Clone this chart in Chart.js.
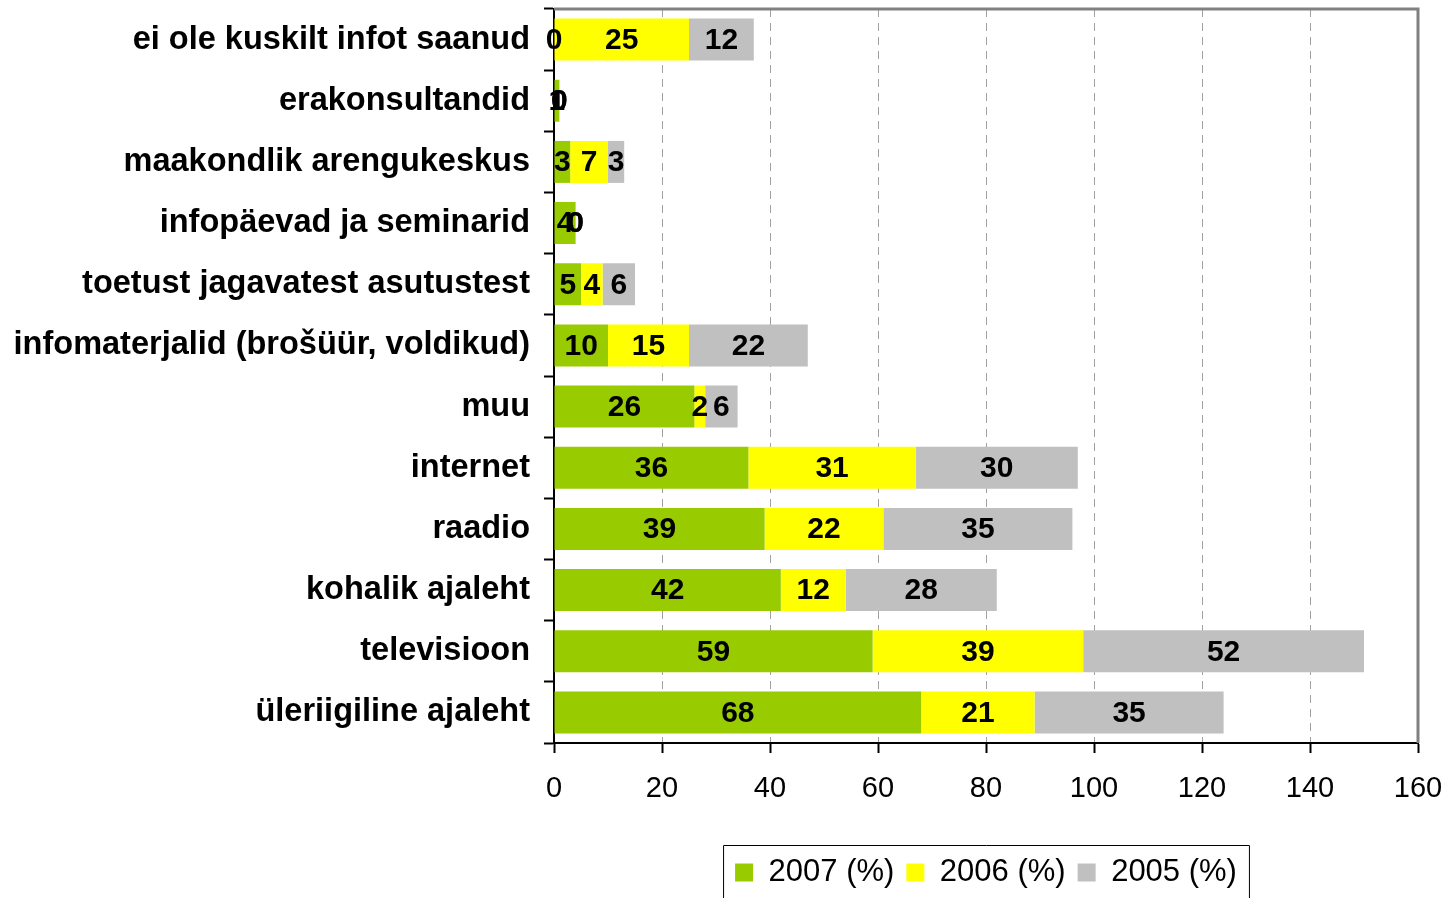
<!DOCTYPE html>
<html>
<head>
<meta charset="utf-8">
<script src="https://cdn.jsdelivr.net/npm/chart.js@4.4.1/dist/chart.umd.min.js"></script>
<style>
html,body{margin:0;padding:0;background:#fff;}
#wrap{width:1450px;height:898px;position:relative;}
</style>
</head>
<body>
<div id="wrap"><canvas id="c" width="1450" height="898"></canvas></div>
<script>
const categories = [
  "ei ole kuskilt infot saanud",
  "erakonsultandid",
  "maakondlik arengukeskus",
  "infopäevad ja seminarid",
  "toetust jagavatest asutustest",
  "infomaterjalid (brošüür, voldikud)",
  "muu",
  "internet",
  "raadio",
  "kohalik ajaleht",
  "televisioon",
  "üleriigiline ajaleht"
];
const values2007 = [0, 1, 3, 4, 5, 10, 26, 36, 39, 42, 59, 68];
const values2006 = [25, 0, 7, 0, 4, 15, 2, 31, 22, 12, 39, 21];
const values2005 = [12, 0, 3, 0, 6, 22, 6, 30, 35, 28, 52, 35];
const seriesLabels = ["2007 (%)", "2006 (%)", "2005 (%)"];
const xTicks = [0, 20, 40, 60, 80, 100, 120, 140, 160];

const FONT = "'Liberation Sans', Arial, sans-serif";

const valueLabels = {
  id: 'valueLabels',
  afterDatasetsDraw(chart) {
    const ctx = chart.ctx;
    ctx.save();
    ctx.font = "bold 30px " + FONT;
    ctx.fillStyle = '#000';
    ctx.textAlign = 'center';
    ctx.textBaseline = 'middle';
    chart.data.datasets.forEach((ds, di) => {
      const meta = chart.getDatasetMeta(di);
      meta.data.forEach((el, i) => {
        const cx = (el.x + el.base) / 2;
        ctx.fillText(String(ds.data[i]), cx, el.y + 1);
      });
    });
    ctx.restore();
  }
};

const legendOverPlot = {
  id: 'legendOverPlot',
  afterLayout(chart) {
    const lg = chart.legend;
    if (lg) {
      lg.left = chart.chartArea.left;
      lg.right = chart.chartArea.right;
      lg.width = lg.right - lg.left;
    }
  }
};

const frameAndLegendBox = {
  id: 'frameAndLegendBox',
  afterDraw(chart) {
    const ctx = chart.ctx;
    const a = chart.chartArea;
    ctx.save();
    ctx.strokeStyle = '#808080';
    ctx.lineWidth = 3;
    ctx.beginPath();
    ctx.moveTo(a.left, a.top);
    ctx.lineTo(a.right, a.top);
    ctx.lineTo(a.right, a.bottom);
    ctx.stroke();
    const lg = chart.legend;
    if (lg && lg.legendHitBoxes && lg.legendHitBoxes.length) {
      const hb = lg.legendHitBoxes;
      const minX = Math.min(...hb.map(h => h.left)) - 12;
      const maxX = Math.max(...hb.map(h => h.left + h.width)) + 12;
      const top = Math.min(...hb.map(h => h.top)) - 12;
      ctx.strokeStyle = '#000';
      ctx.lineWidth = 1;
      ctx.beginPath();
      ctx.moveTo(minX + 0.5, chart.height + 2);
      ctx.lineTo(minX + 0.5, top + 0.5);
      ctx.lineTo(maxX + 0.5, top + 0.5);
      ctx.lineTo(maxX + 0.5, chart.height + 2);
      ctx.stroke();
    }
    ctx.restore();
  }
};

new Chart(document.getElementById('c'), {
  type: 'bar',
  data: {
    labels: categories,
    datasets: [
      { label: seriesLabels[0], data: values2007, backgroundColor: '#99CC00', borderWidth: 0 },
      { label: seriesLabels[1], data: values2006, backgroundColor: '#FFFF00', borderWidth: 0 },
      { label: seriesLabels[2], data: values2005, backgroundColor: '#C0C0C0', borderWidth: 0 }
    ]
  },
  options: {
    indexAxis: 'y',
    responsive: false,
    animation: false,
    devicePixelRatio: 1,
    layout: { padding: { top: 9, right: 32, left: 0, bottom: 0 } },
    datasets: { bar: { categoryPercentage: 1.0, barPercentage: 0.686 } },
    scales: {
      x: {
        stacked: true,
        min: 0, max: 160,
        afterBuildTicks(scale) { scale.ticks = xTicks.map(v => ({ value: v })); },
        afterFit(scale) {
          const lh = scale.chart.legend ? scale.chart.legend.height : 0;
          scale.height = scale.chart.height - lh - 743;
          scale.paddingLeft = 0;
          scale.paddingRight = 0;
        },
        grid: {
          color: '#A0A0A0',
          lineWidth: 1,
          tickColor: '#000',
          tickWidth: 2,
          tickLength: 10,
          tickBorderDash: []
        },
        border: { display: true, color: '#000', width: 2, dash: [8, 6] },
        ticks: {
          color: '#000',
          font: { family: FONT, size: 29 },
          padding: 19,
          maxRotation: 0
        }
      },
      y: {
        stacked: true,
        afterFit(scale) {
          scale.width = 554;
          scale.paddingTop = 0;
          scale.paddingBottom = 0;
        },
        grid: {
          drawOnChartArea: false,
          color: '#000',
          tickColor: '#000',
          tickWidth: 2,
          tickLength: 10,
          offset: true
        },
        border: { display: true, color: '#000', width: 2 },
        ticks: {
          color: '#000',
          font: { family: FONT, size: 32.5, weight: 'bold' },
          padding: 14,
          autoSkip: false
        }
      }
    },
    plugins: {
      tooltip: { enabled: false },
      legend: {
        position: 'bottom',
        labels: {
          color: '#000',
          font: { family: FONT, size: 31 },
          boxWidth: 18,
          boxHeight: 18,
          padding: 12
        }
      }
    }
  },
  plugins: [legendOverPlot, valueLabels, frameAndLegendBox]
});
</script>
</body>
</html>
